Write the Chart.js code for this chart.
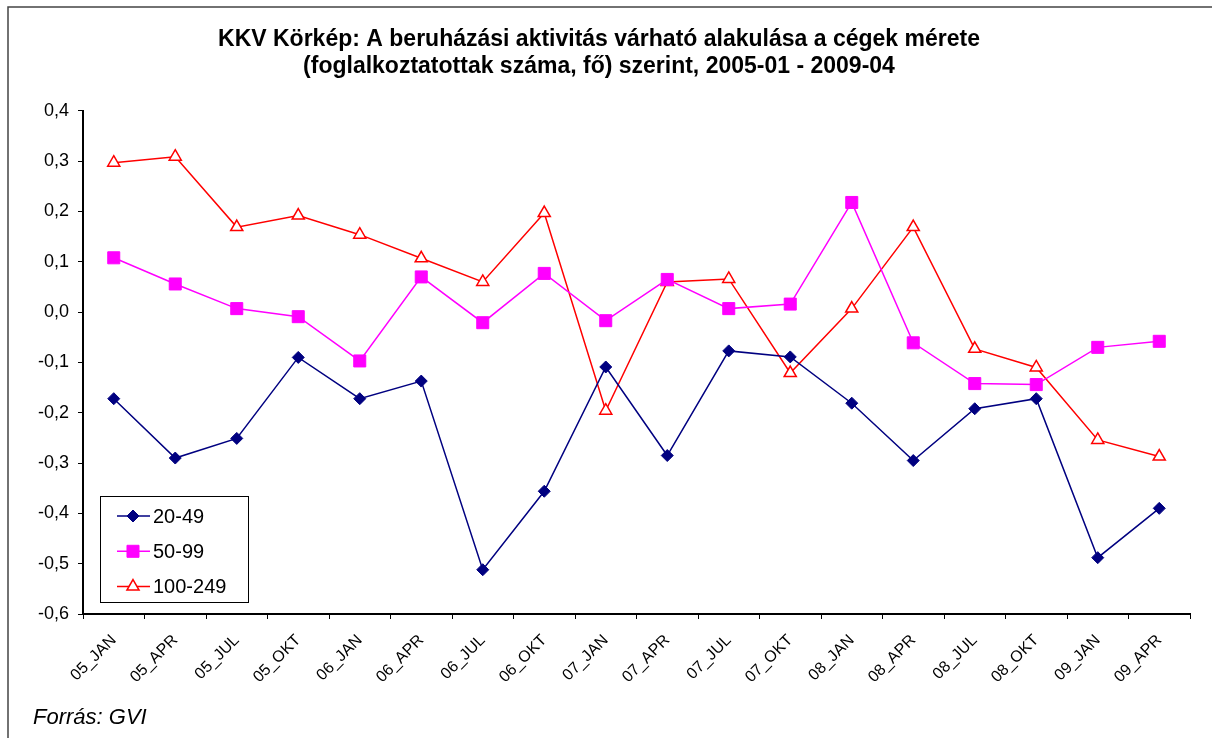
<!DOCTYPE html>
<html>
<head>
<meta charset="utf-8">
<script src="https://cdn.jsdelivr.net/npm/chart.js@4/dist/chart.umd.min.js"></script>
<style>
  html, body { margin: 0; padding: 0; background: #fff; }
  canvas { display: block; }
</style>
</head>
<body>
<canvas id="c" width="1212" height="738"></canvas>
<script>
const categories = ["05_JAN","05_APR","05_JUL","05_OKT","06_JAN","06_APR","06_JUL","06_OKT","07_JAN","07_APR","07_JUL","07_OKT","08_JAN","08_APR","08_JUL","08_OKT","09_JAN","09_APR"];
const series2049 = [-0.172, -0.29, -0.251, -0.09, -0.172, -0.137, -0.512, -0.356, -0.109, -0.285, -0.077, -0.089, -0.181, -0.295, -0.192, -0.172, -0.488, -0.39];
const series5099 = [0.108, 0.056, 0.007, -0.009, -0.097, 0.07, -0.021, 0.077, -0.017, 0.065, 0.007, 0.016, 0.218, -0.061, -0.142, -0.144, -0.07, -0.058];
const series100249 = [0.297, 0.309, 0.169, 0.192, 0.154, 0.107, 0.06, 0.197, -0.196, 0.06, 0.066, -0.121, 0.007, 0.169, -0.073, -0.11, -0.254, -0.287];
const seriesNames = ["20-49", "50-99", "100-249"];
const titleLines = ["KKV Körkép: A beruházási aktivitás várható alakulása a cégek mérete", "(foglalkoztatottak száma, fő) szerint, 2005-01 - 2009-04"];
const sourceText = "Forrás: GVI";
const yMin = -0.6, yMax = 0.4, yStep = 0.1;

const FONT = "'Liberation Sans', Arial, sans-serif";

const extras = {
  id: 'extras',
  afterDraw(chart) {
    const ctx = chart.ctx;
    ctx.save();
    // outer frame (left and top edges visible)
    ctx.strokeStyle = '#444';
    ctx.lineWidth = 1.5;
    ctx.beginPath();
    ctx.moveTo(8, 738);
    ctx.lineTo(8, 7);
    ctx.lineTo(1212, 7);
    ctx.stroke();

    // legend box
    const bx = 100.5, by = 496.5, bw = 148, bh = 106;
    ctx.fillStyle = '#fff';
    ctx.fillRect(bx, by, bw, bh);
    ctx.strokeStyle = '#000';
    ctx.lineWidth = 1;
    ctx.strokeRect(bx, by, bw, bh);
    chart.data.datasets.forEach((ds, i) => {
      const y = 516 + i * 35.3;
      ctx.strokeStyle = ds.borderColor;
      ctx.lineWidth = ds.borderWidth;
      ctx.beginPath();
      ctx.moveTo(117, y);
      ctx.lineTo(150, y);
      ctx.stroke();
      ctx.fillStyle = ds.pointBackgroundColor;
      ctx.strokeStyle = ds.pointBorderColor;
      ctx.lineWidth = ds.pointBorderWidth;
      Chart.helpers.drawPoint(ctx, {pointStyle: ds.pointStyle, radius: ds.pointRadius, borderWidth: ds.pointBorderWidth, rotation: 0}, 133, y);
      ctx.fillStyle = '#000';
      ctx.font = "20px " + FONT;
      ctx.textAlign = 'left';
      ctx.textBaseline = 'middle';
      ctx.fillText(ds.label, 153, y + 1);
    });

    // source
    ctx.fillStyle = '#000';
    ctx.font = "italic 22px " + FONT;
    ctx.textAlign = 'left';
    ctx.textBaseline = 'alphabetic';
    ctx.fillText(sourceText, 33, 724);
    ctx.restore();
  }
};

new Chart(document.getElementById('c'), {
  type: 'line',
  data: {
    labels: categories,
    datasets: [
      {
        label: seriesNames[0], data: series2049,
        borderColor: '#000080', borderWidth: 1.5,
        pointStyle: 'rectRot', pointRadius: 6, pointBackgroundColor: '#000080', pointBorderColor: '#000080', pointBorderWidth: 1,
        tension: 0, fill: false
      },
      {
        label: seriesNames[1], data: series5099,
        borderColor: '#FF00FF', borderWidth: 1.5,
        pointStyle: 'rect', pointRadius: 8.5, pointBackgroundColor: '#FF00FF', pointBorderColor: '#FF00FF', pointBorderWidth: 1,
        tension: 0, fill: false
      },
      {
        label: seriesNames[2], data: series100249,
        borderColor: '#FF0000', borderWidth: 1.5,
        pointStyle: 'triangle', pointRadius: 7, pointBackgroundColor: '#FFFFFF', pointBorderColor: '#FF0000', pointBorderWidth: 1.5,
        tension: 0, fill: false
      }
    ]
  },
  options: {
    responsive: false,
    animation: false,
    devicePixelRatio: 1,
    layout: { padding: { left: 8, right: 22, top: 0, bottom: 0 } },
    plugins: {
      legend: { display: false },
      tooltip: { enabled: false },
      title: {
        display: true,
        text: titleLines,
        color: '#000',
        font: { family: FONT, size: 23, weight: 'bold', lineHeight: 1.15 },
        padding: { top: 26.5, bottom: 31.5 }
      }
    },
    scales: {
      x: {
        offset: true,
        grid: { offset: true, drawOnChartArea: false, tickLength: 5, color: '#000', tickWidth: 1 },
        border: { color: '#000', width: 2 },
        ticks: { autoSkip: false, maxRotation: 45, minRotation: 45, color: '#000', font: { family: FONT, size: 16 }, padding: 12 },
        afterFit(scale) { scale.height = 124; }
      },
      y: {
        min: yMin, max: yMax,
        grid: { drawOnChartArea: false, tickLength: 5, color: '#000', tickWidth: 1 },
        border: { color: '#000', width: 2 },
        ticks: {
          stepSize: yStep, color: '#000', font: { family: FONT, size: 18 }, padding: 9,
          callback: (v) => { let s = (Math.abs(v) < 1e-9 ? 0 : v).toFixed(1); return s.replace('.', ','); }
        },
        afterFit(scale) { scale.width = 75; }
      }
    }
  },
  plugins: [extras]
});
</script>
</body>
</html>
